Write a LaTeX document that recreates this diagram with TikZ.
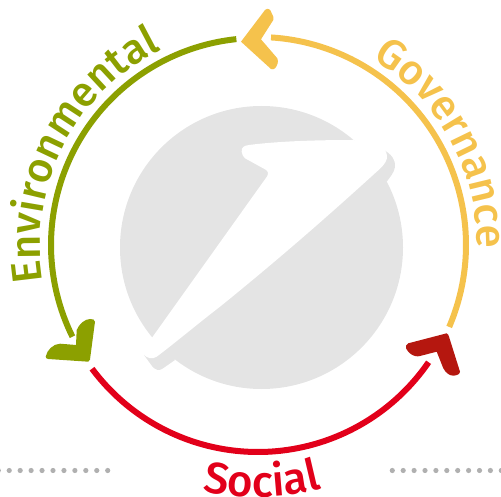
\documentclass[tikz,border=0pt]{standalone}
\usepackage{fontspec}
\newfontfamily\ringfamily{Fira Sans Medium}
\usetikzlibrary{decorations.text}
\definecolor{envgreen}{HTML}{8CA000}
\definecolor{govyellow}{HTML}{F5C24C}
\definecolor{socred}{HTML}{E2001A}
\definecolor{darkred}{HTML}{B5170F}
\definecolor{logogray}{HTML}{E4E4E4}
\definecolor{dotgray}{HTML}{B0B0B0}
\newcommand{\ringfont}[1]{\ringfamily\fontsize{#1}{#1}\selectfont}
\tikzset{
  ringarc/.style={line width=6pt},
  ringtext/.style={decorate,decoration={text along path,text align=center,text={#1}}},
  dotmark/.style={fill=dotgray,draw=none}
}
\begin{document}
\begin{tikzpicture}[x=1pt,y=-1pt]
  \useasboundingbox (0,0) rectangle (501,497);
  \coordinate (c) at (258,245);
  % logo
  \fill[logogray] (261.5,247.5) circle (141.5);
  \fill[logogray] (384,150) .. controls (391,154) and (396,160) .. (395,167) .. controls (394,173) and (390,177) .. (386.7,181.7) -- (360,180) -- cycle;
  \fill[logogray] (144,355) -- (152,366) .. controls (155,370) and (159,371) .. (162,369) -- (175,360) -- (165,345) -- cycle;
  \fill[white] (241.7,151.7) .. controls (241,147) and (245,145.5) .. (249,145) .. controls (280,141) and (320,140) .. (353.3,140)
    -- (385,150) .. controls (387,153) and (388,158) .. (385.5,162) .. controls (383,166) and (380,169) .. (376.7,171.7)
    .. controls (340,205) and (290,250) .. (220,306.7) .. controls (200,322) and (175,343) .. (156.7,356.7)
    .. controls (152,359.5) and (148,358.5) .. (144,355) -- (152.3,337.3) -- (267,176.5)
    .. controls (269,173) and (268,171) .. (265,169.3) -- (245,158.3) .. controls (243,157) and (242,154) .. (241.7,151.7) -- cycle;
  % ring
  \draw[ringarc,envgreen] (c) ++(-96:207) arc[start angle=-96,end angle=-206.3,radius=207];
  \draw[ringarc,socred] (c) ++(-216.7:207) arc[start angle=-216.7,end angle=-325.5,radius=207];
  \draw[ringarc,govyellow] (c) ++(23.2:208) arc[start angle=23.2,end angle=-86.4,radius=208];
  % arrowheads
  \fill[govyellow] (241,41.7) -- (265,10) .. controls (268,7) and (271,10) .. (271.7,13.3) .. controls (273,15) and (274,18) .. (273.3,20)
    -- (261,39.3) -- (277.3,58.3) .. controls (279,62) and (277,66) .. (275,68.3) .. controls (274,69.5) and (272,69.5) .. (271,69) -- cycle;
  \fill[darkred] (446.7,333.3) -- (408.3,343.3) .. controls (406,344.5) and (405.5,346.5) .. (406,348.3) .. controls (408,352) and (411,355) .. (415,356)
    .. controls (417,356.5) and (418.5,356.5) .. (420,356) -- (436.7,351.7) -- (443.3,368.3) .. controls (446,373) and (449,375.5) .. (453.3,375.7)
    .. controls (457,375.5) and (460,374) .. (460,371.7) -- (449,336.7) .. controls (448.5,335) and (448,334) .. (446.7,333.3) -- cycle;
  \fill[envgreen] (88.3,361.7) .. controls (89.5,361.5) and (89.7,360.5) .. (90,359.5) -- (95,321.7) .. controls (95,319.5) and (92.5,319) .. (90,319)
    .. controls (85,319) and (79,324) .. (76.7,330) -- (76,345) -- (60,343.7) .. controls (53,344) and (47,350) .. (45.7,356.7)
    .. controls (45.7,358) and (46.5,358.7) .. (48.3,359) -- cycle;
  % labels
  \path[ringtext={|\ringfont{42}\color{envgreen}|Environmental}] (c) ++(-189:218) arc[start angle=-189,end angle=-117,radius=218];
  \path[ringtext={|\ringfont{42}\color{govyellow}|Governance}] (c) ++(-61.5:219) arc[start angle=-61.5,end angle=4,radius=219];
  \path[ringtext={|\ringfont{44}\color{socred}|Social}] (c) ++(-241:252) arc[start angle=-241,end angle=-301,radius=252];
  % dots
  \foreach \i in {0,...,10} {
    \fill[dotmark] (-1.7+10.94*\i,470.5) circle (2.6);
    \fill[dotmark] (392.3+10.9*\i,470.5) circle (2.6);
  }
\end{tikzpicture}
\end{document}
